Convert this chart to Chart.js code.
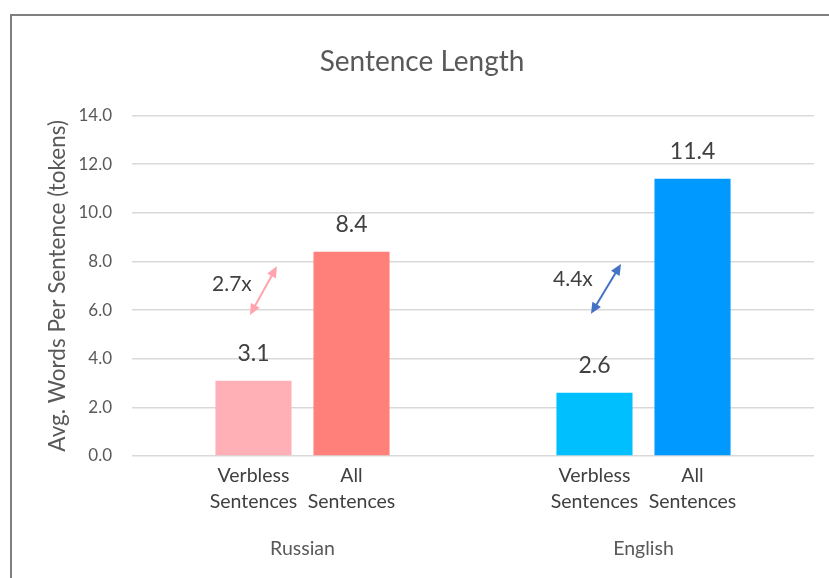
<!DOCTYPE html>
<html>
<head>
<meta charset="utf-8">
<script src="https://cdn.jsdelivr.net/npm/chart.js@4.4.1/dist/chart.umd.min.js"></script>
<style>
  html, body { margin: 0; padding: 0; background: #fff; overflow: hidden; }
  #wrap { position: relative; width: 829px; height: 578px; overflow: hidden; }
  #frame { position: absolute; left: 10px; top: 14px; width: 900px; height: 700px; border: 2px solid #7f7f7f; box-sizing: border-box; }
  canvas { position: absolute; left: 0; top: 0; }
</style>
</head>
<body>
<div id="wrap">
  <div id="frame"></div>
  <canvas id="chart" width="845" height="578"></canvas>
</div>
<script>
// groups and bars
const groups = ['Russian', 'English'];
const barLabels = [['Verbless', 'Sentences'], ['All', 'Sentences']];
const verbless = [3.1, 2.6];
const allSentences = [8.4, 11.4];
// ratio callouts: text and the value range the arrow spans
const ratios = ['2.7x', '4.4x'];
const arrowFrom = [5.8, 5.85];
const arrowTo = [7.8, 7.9];
const ratioAt = [7.08, 7.29];
const yMax = 14;
const yStep = 2;

const textColor = '#404040';

// draws value labels, two-line bar labels and the ratio arrows
const overlay = {
  id: 'overlay',
  afterDatasetsDraw(chart) {
    const ctx = chart.ctx;
    const xs = chart.scales.x, ys = chart.scales.y;
    ctx.save();
    ctx.textAlign = 'center';
    ctx.textBaseline = 'middle';
    chart.data.datasets.forEach((ds, i) => {
      chart.getDatasetMeta(i).data.forEach((bar, j) => {
        ctx.fillStyle = textColor;
        ctx.font = '23px Lato';
        ctx.fillText(ds.data[j].toFixed(1), bar.x, bar.y - 27);
        ctx.font = '19.5px Lato';
        ctx.fillText(barLabels[i][0], bar.x, ys.bottom + 20);
        ctx.fillText(barLabels[i][1], bar.x, ys.bottom + 46);
      });
    });

    const w = xs.getPixelForValue(1) - xs.getPixelForValue(0);
    ratios.forEach((r, j) => {
      const cx = xs.getPixelForValue(j);
      const col = j === 0 ? '#FFA3AC' : '#4472C4';
      const x1 = cx - 0.154 * w, y1 = ys.getPixelForValue(arrowFrom[j]);
      const x2 = cx - (j === 0 ? 0.075 : 0.066) * w, y2 = ys.getPixelForValue(arrowTo[j]);
      ctx.strokeStyle = col;
      ctx.fillStyle = col;
      ctx.lineWidth = 2;
      const ang = Math.atan2(y2 - y1, x2 - x1);
      const hl = 11, hw = 5;
      // shaft
      ctx.beginPath();
      ctx.moveTo(x1 + Math.cos(ang) * hl * 0.8, y1 + Math.sin(ang) * hl * 0.8);
      ctx.lineTo(x2 - Math.cos(ang) * hl * 0.8, y2 - Math.sin(ang) * hl * 0.8);
      ctx.stroke();
      // heads
      [[x1, y1, ang], [x2, y2, ang + Math.PI]].forEach(([px, py, a]) => {
        const bx = px + Math.cos(a) * hl, by = py + Math.sin(a) * hl;
        ctx.beginPath();
        ctx.moveTo(px, py);
        ctx.lineTo(bx - Math.sin(a) * hw, by + Math.cos(a) * hw);
        ctx.lineTo(bx + Math.sin(a) * hw, by - Math.cos(a) * hw);
        ctx.closePath();
        ctx.fill();
      });
      ctx.fillStyle = textColor;
      ctx.font = '21px Lato';
      ctx.fillText(r, cx - 0.207 * w, ys.getPixelForValue(ratioAt[j]));
    });
    ctx.restore();
  }
};

new Chart(document.getElementById('chart'), {
  type: 'bar',
  data: {
    labels: groups,
    datasets: [
      {
        label: 'Verbless Sentences',
        data: verbless,
        backgroundColor: ['#FFAFB6', '#00BFFF']
      },
      {
        label: 'All Sentences',
        data: allSentences,
        backgroundColor: ['#FF7F7B', '#0099FF']
      }
    ]
  },
  options: {
    responsive: false,
    animation: false,
    categoryPercentage: 0.575,
    barPercentage: 0.776,
    layout: { padding: { left: 30, right: 31, top: 0, bottom: 0 } },
    plugins: {
      legend: { display: false },
      tooltip: { enabled: false },
      title: {
        display: true,
        text: 'Sentence Length',
        color: '#595959',
        font: { family: 'Lato', size: 28, weight: 'normal' },
        padding: { top: 45, bottom: 37 }
      }
    },
    scales: {
      x: {
        grid: { display: false },
        border: { display: false },
        ticks: {
          color: '#595959',
          font: { family: 'Lato', size: 19.5 },
          padding: 73
        },
        afterFit: s => { s.height = 122; }
      },
      y: {
        min: 0,
        max: yMax,
        border: { display: false },
        grid: { color: '#D9D9D9', lineWidth: 1.5, drawTicks: false },
        ticks: {
          stepSize: yStep,
          color: '#595959',
          font: { family: 'Lato', size: 17 },
          padding: 20,
          callback: v => v.toFixed(1)
        },
        title: {
          display: true,
          text: 'Avg. Words Per Sentence (tokens)',
          color: '#595959',
          font: { family: 'Lato', size: 22.5 },
          padding: { top: 14, bottom: 6 }
        },
        afterFit: s => { s.width = 102; }
      }
    }
  },
  plugins: [overlay]
});
</script>
</body>
</html>
